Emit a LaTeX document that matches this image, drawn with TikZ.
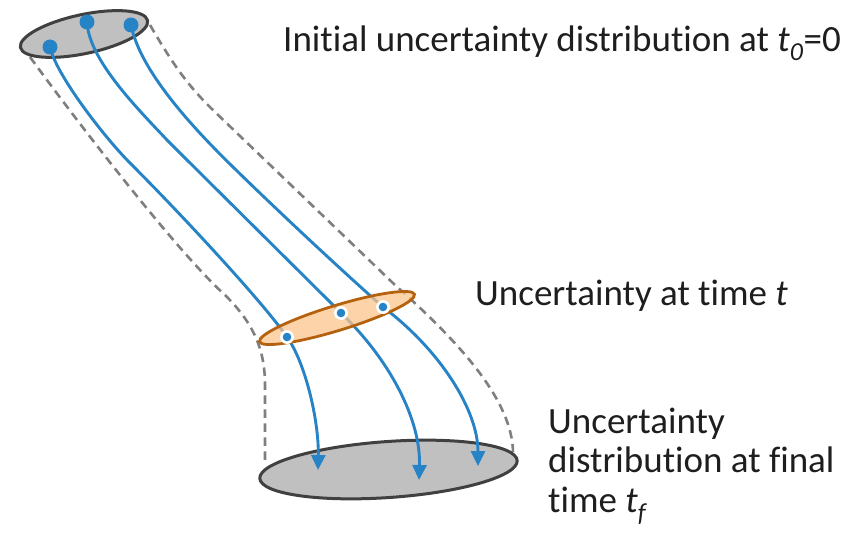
\documentclass[tikz,border=0pt]{standalone}
\usepackage{fontspec}
\setmainfont{Carlito}[Ligatures={NoCommon}]
\usetikzlibrary{arrows.meta}
\definecolor{traj}{HTML}{2683C6}
\definecolor{envgray}{HTML}{7F7F7F}
\definecolor{distfill}{HTML}{C0C0C0}
\definecolor{distedge}{HTML}{404040}
\definecolor{midfill}{HTML}{FCC48C}
\definecolor{midedge}{HTML}{B5620F}
\definecolor{txt}{HTML}{1E1E1E}
\tikzset{
  envelope/.style={envgray, line width=2.6pt, dash pattern=on 8.5pt off 5.5pt},
  trajline/.style={traj, line width=2.9pt, line cap=round},
  trajarrow/.style={trajline, -{Triangle[length=15pt,width=14pt]}},
  bigdot/.style={fill=traj, draw=none},
  label/.style={font=\fontsize{37}{44}\selectfont, text=txt, inner sep=0pt, anchor=base west},
}
\begin{document}
\begin{tikzpicture}[x=1pt,y=-1pt]
\useasboundingbox (0,0) rectangle (852,535);
% named points
\coordinate (p1) at (50,47);
\coordinate (p2) at (87,22);
\coordinate (p3) at (131,25);
\coordinate (m1) at (287,337);
\coordinate (m2) at (341,313);
\coordinate (m3) at (383,307);
\coordinate (e1) at (318,470);
\coordinate (e2) at (419,480);
\coordinate (e3) at (478,466);
\coordinate (la) at (30,57);
\coordinate (lb) at (265,460);
\coordinate (ra) at (150,25);
\coordinate (rb) at (513,452);
% envelope (dashed)
\draw[envelope] (la) .. controls (70,112) and (175,250) .. (225,295)
  .. controls (250,320) and (265,345) .. (265,385) -- (lb);
\draw[envelope] (ra) .. controls (175,68) and (190,88) .. (215,112)
  -- (395,285) .. controls (460,343) and (512,400) .. (rb);
% final distribution
\draw[fill=distfill, draw=distedge, line width=3pt, shift={(388.5,469.5)}, rotate=4] (0,0) ellipse [x radius=129pt, y radius=28pt];
% initial distribution
\draw[fill=distfill, draw=distedge, line width=3pt, shift={(84,34)}, rotate=12] (0,0) ellipse [x radius=65pt, y radius=19.5pt];
% trajectories
\draw[trajarrow] (p1) .. controls (56,75) and (105,138) .. (130,163)
  .. controls (180,213) and (262,301) .. (m1)
  .. controls (305,362) and (319,420) .. (e1);
\draw[trajarrow] (p2) .. controls (89,60) and (137,108) .. (167,140)
  .. controls (220,193) and (300,272) .. (m2)
  .. controls (390,360) and (421,420) .. (e2);
\draw[trajarrow] (p3) .. controls (140,70) and (190,125) .. (233,167)
  .. controls (283,216) and (350,278) .. (m3)
  .. controls (440,350) and (478,410) .. (e3);
% intermediate uncertainty
\draw[fill=midfill, fill opacity=0.75, draw=midedge, line width=2.8pt, shift={(337,318)}, rotate=17] (0,0) ellipse [x radius=81pt, y radius=12.5pt];
% dots
\foreach \p in {p1,p2,p3} \fill[bigdot] (\p) circle [radius=7.5pt];
\foreach \p in {m1,m2,m3} {
  \fill[white] (\p) circle [radius=7pt];
  \fill[bigdot] (\p) circle [radius=4.3pt];
}
% labels
\node[label] (l0) at (283,52) {Initial uncertainty distribution at \textit{t}\textsubscript{\textit{0}}=0};
\node[label] (lt) at (475,305) {Uncertainty at time \textit{t}};
\node[label] (lf1) at (548,433) {Uncertainty};
\node[label] (lf2) at (548,472) {distribution at final};
\node[label] (lf3) at (548,512) {time \textit{t}\textsubscript{\textit{f}}};
\end{tikzpicture}
\end{document}
